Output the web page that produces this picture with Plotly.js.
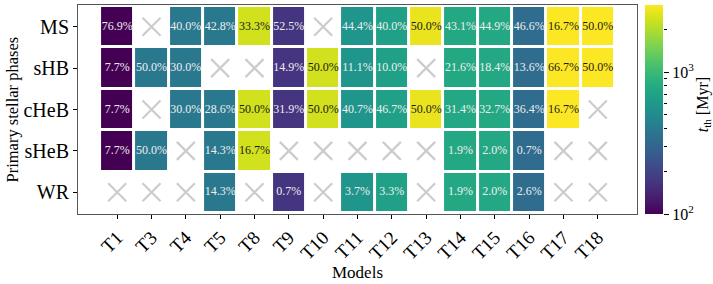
<!DOCTYPE html>
<html>
<head>
<meta charset="utf-8">
<script src="https://cdn.plot.ly/plotly-3.0.1.min.js"></script>
<style>html,body{margin:0;padding:0;background:#fff}#chart{width:713px;height:284px}</style>
</head>
<body>
<div id="chart"></div>
<script>
// ---- data ----
const models = ["T1","T3","T4","T5","T8","T9","T10","T11","T12","T13","T14","T15","T16","T17","T18"];
const phases = ["MS","sHB","cHeB","sHeB","WR"];
// percentage of systems per phase and model (null = none)
const pctMS   = [76.9, null, 40.0, 42.8, 33.3, 52.5, null, 44.4, 40.0, 50.0, 43.1, 44.9, 46.6, 16.7, 50.0];
const pctSHB  = [7.7, 50.0, 30.0, null, null, 14.9, 50.0, 11.1, 10.0, null, 21.6, 18.4, 13.6, 66.7, 50.0];
const pctCHeB = [7.7, null, 30.0, 28.6, 50.0, 31.9, 50.0, 40.7, 46.7, 50.0, 31.4, 32.7, 36.4, 16.7, null];
const pctSHeB = [7.7, 50.0, null, 14.3, 16.7, null, null, null, null, null, 1.9, 2.0, 0.7, null, null];
const pctWR   = [null, null, null, 14.3, null, 0.7, null, 3.7, 3.3, null, 1.9, 2.0, 2.6, null, null];
// characteristic timescale t_th [Myr] per model (colour)
const tth = [100, 387, 387, 387, 2350, 166, 2350, 580, 690, 2670, 760, 760, 327, 2950, 2950];
const cbMin = 100, cbMax = 2965;
const cbMajor = [100, 1000];
const cbMajorText = ["10<sup>2</sup>", "10<sup>3</sup>"];
const cbMinor = [200,300,400,500,600,700,800,900,2000];

// ---- build ----
const pctRows = [pctMS, pctSHB, pctCHeB, pctSHeB, pctWR];
const z = pctRows.map(r => r.map((v,i) => v === null ? null : Math.log10(tth[i])));
const zmin = Math.log10(cbMin), zmax = Math.log10(cbMax);

const tx=[], ty=[], tt=[], tc=[], xx=[], xy=[];
pctRows.forEach((r,j) => r.forEach((v,i) => {
  if (v === null) { xx.push(models[i]); xy.push(phases[j]); }
  else {
    tx.push(models[i]); ty.push(phases[j]); tt.push(v.toFixed(1) + "%");
    const f = (Math.log10(tth[i]) - zmin) / (zmax - zmin);
    tc.push(f > 0.8 ? "#1a1a1a" : "#eeeeee");
  }
}));

const serif = "'Liberation Serif', 'DejaVu Serif', serif";

const traces = [
  {
    type: "heatmap", x: models, y: phases, z: z,
    colorscale: "Viridis", zmin: zmin, zmax: zmax,
    xgap: 3, ygap: 3, hoverongaps: false,
    colorbar: {
      x: 567/625, xanchor: "left", y: 0.5, yanchor: "middle",
      len: 1, lenmode: "fraction", thickness: 18, thicknessmode: "pixels",
      xpad: 0, ypad: 0, outlinewidth: 0, showticklabels: false, ticks: ""
    }
  },
  {
    type: "scatter", mode: "markers", x: xx, y: xy, hoverinfo: "skip",
    marker: {symbol: "x-thin", size: 18, line: {width: 2.2, color: "#cccccc"}},
    showlegend: false
  },
  {
    type: "scatter", mode: "text", x: tx, y: ty, text: tt, hoverinfo: "skip",
    textfont: {family: serif, size: 12, color: tc}, showlegend: false
  },
  { type: "scatter", x: [], y: [], yaxis: "y2", showlegend: false }
];

const layout = {
  width: 713, height: 284,
  margin: {l: 78, r: 10, t: 5, b: 70},
  paper_bgcolor: "#fff", plot_bgcolor: "#fff",
  font: {family: serif, color: "#000"},
  showlegend: false,
  xaxis: {
    domain: [0, 559/625], type: "category", categoryarray: models,
    tickangle: -45, tickfont: {size: 19, family: serif},
    ticks: "outside", ticklen: 4, tickcolor: "#000",
    showline: true, linecolor: "#555", linewidth: 1, mirror: true,
    showgrid: false, zeroline: false, fixedrange: true
  },
  yaxis: {
    type: "category", categoryarray: phases, autorange: "reversed",
    tickfont: {size: 20, family: serif},
    ticks: "outside", ticklen: 4, tickcolor: "#000",
    showline: true, linecolor: "#555", linewidth: 1, mirror: true,
    showgrid: false, zeroline: false, fixedrange: true
  },
  yaxis2: {
    overlaying: "y", anchor: "free", position: 585/625, side: "right",
    type: "log", range: [Math.log10(cbMin), Math.log10(cbMax)],
    tickmode: "array", tickvals: cbMajor, ticktext: cbMajorText,
    ticks: "outside", ticklen: 5, tickcolor: "#000",
    tickfont: {size: 16, family: serif},
    minor: {tickmode: "array", tickvals: cbMinor, ticks: "outside", ticklen: 3, tickcolor: "#000"},
    showgrid: false, zeroline: false, showline: false, fixedrange: true
  },
  annotations: [
    {text: "Models", xref: "paper", yref: "paper", x: 0.4472, y: -0.28,
     xanchor: "center", yanchor: "middle", showarrow: false, font: {size: 17, family: serif}},
    {text: "Primary stellar phases", xref: "paper", yref: "paper", x: -0.1056, y: 0.5,
     textangle: -90, xanchor: "center", yanchor: "middle", showarrow: false, font: {size: 16.5, family: serif}},
    {text: "<i>t</i><sub>th</sub> [Myr]", xref: "paper", yref: "paper", x: 1.0, y: 0.52,
     textangle: -90, xanchor: "center", yanchor: "middle", showarrow: false, font: {size: 16, family: serif}}
  ]
};

Plotly.newPlot("chart", traces, layout, {staticPlot: true, displayModeBar: false});
</script>
</body>
</html>
